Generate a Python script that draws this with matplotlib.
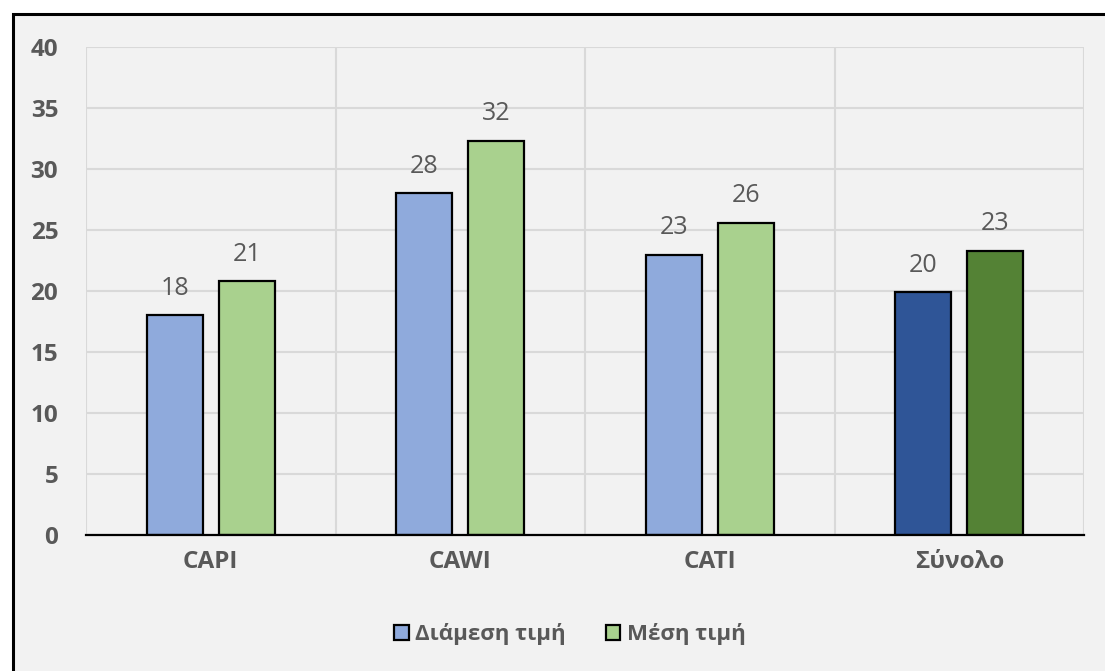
import numpy as np
import matplotlib.pyplot as plt
from matplotlib.patches import Rectangle, Patch

# data
categories = ['CAPI', 'CAWI', 'CATI', 'Σύνολο']
median_vals = [18.0, 28.0, 22.95, 19.9]
mean_vals = [20.8, 32.3, 25.6, 23.3]
yticks = [0, 5, 10, 15, 20, 25, 30, 35, 40]

plt.rcParams['font.family'] = ['Open Sans', 'DejaVu Sans']
txt = '#595959'

fig = plt.figure(figsize=(11.05, 6.71), dpi=100, facecolor='white')

# outer frame (only left/top visible, the rest is cut off)
fig.add_artist(Rectangle((12.5/1105, -0.2), 1.2, 0.2 + (671-14)/671,
                         transform=fig.transFigure, facecolor='#F2F2F2',
                         edgecolor='black', linewidth=2.2, zorder=0))

ax = fig.add_axes([86/1105, 1 - 535/671, (1084-86)/1105, (535-47)/671])
ax.set_facecolor('none')

x = np.arange(len(categories))
w = 0.225
off = 0.145
c_med = ['#8FAADC', '#8FAADC', '#8FAADC', '#2F5597']
c_mean = ['#A9D18E', '#A9D18E', '#A9D18E', '#548235']
b1 = ax.bar(x - off, median_vals, w, color=c_med, edgecolor='black', linewidth=1.6, zorder=3)
b2 = ax.bar(x + off, mean_vals, w, color=c_mean, edgecolor='black', linewidth=1.6, zorder=3)

for bars, vals in [(b1, median_vals), (b2, mean_vals)]:
    for b, v in zip(bars, vals):
        ax.text(b.get_x() + b.get_width()/2, v + 1.2, '%d' % round(v),
                ha='center', va='bottom', fontsize=18, color=txt)

ax.set_xlim(-0.5, len(categories) - 0.5)
ax.set_ylim(0, 40)
ax.set_yticks(yticks)
ax.set_xticks(x)
ax.set_xticklabels(categories)
ax.set_xticks(np.arange(-0.5, len(categories)), minor=True)
ax.tick_params(axis='both', which='both', length=0, labelsize=17.5, labelcolor=txt)
ax.tick_params(axis='y', pad=20)
ax.tick_params(axis='x', pad=11)
for lab in ax.get_xticklabels() + ax.get_yticklabels():
    lab.set_fontweight('bold')

ax.grid(axis='y', color='#D9D9D9', linewidth=1.5, zorder=0)
ax.grid(axis='x', which='minor', color='#D9D9D9', linewidth=1.5, zorder=0)
for s in ['left', 'right', 'top']:
    ax.spines[s].set_visible(False)
ax.spines['bottom'].set_color('black')
ax.spines['bottom'].set_linewidth(1.6)
ax.spines['bottom'].set_zorder(4)

handles = [Patch(facecolor='#8FAADC', edgecolor='black', linewidth=1.6),
           Patch(facecolor='#A9D18E', edgecolor='black', linewidth=1.6)]
leg = fig.legend(handles, ['Διάμεση τιμή', 'Μέση τιμή'], loc='center',
                 bbox_to_anchor=(570/1105, 1 - 634/671), ncol=2, frameon=False,
                 fontsize=16, handlelength=0.65, handleheight=0.65,
                 handletextpad=0.3, columnspacing=1.8)
for t in leg.get_texts():
    t.set_color(txt)
    t.set_fontweight('bold')

fig.savefig('out.png', dpi=100, facecolor='white')
